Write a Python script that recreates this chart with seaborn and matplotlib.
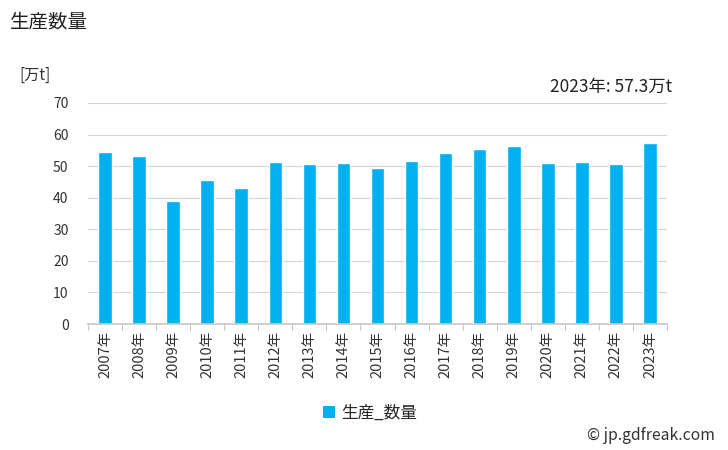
import matplotlib
matplotlib.use("Agg")
import matplotlib.pyplot as plt
import seaborn as sns
import pandas as pd

years = ["2007年", "2008年", "2009年", "2010年", "2011年", "2012年", "2013年", "2014年",
         "2015年", "2016年", "2017年", "2018年", "2019年", "2020年", "2021年", "2022年", "2023年"]
values = [54.5, 53.2, 39.0, 45.6, 43.1, 51.3, 50.7, 51.0,
          49.4, 51.6, 54.2, 55.4, 56.4, 51.0, 51.3, 50.6, 57.3]
series_name = "生産_数量"
title = "生産数量"
unit_label = "[万t]"
latest_note = "2023年: 57.3万t"
yticks = [0, 10, 20, 30, 40, 50, 60, 70]

sns.set_theme(style="white")
plt.rcParams['font.family'] = ['Noto Sans CJK JP', 'DejaVu Sans']

df = pd.DataFrame({"year": years, "value": values, "series": series_name})

fig = plt.figure(figsize=(7.28, 4.5), dpi=100)
ax = fig.add_axes([88/728, 1-324/450, (667-88)/728, (324-103)/450])

sns.barplot(data=df, x="year", y="value", hue="series", palette=["#00B0F0"],
            width=0.4, ax=ax, legend=False, saturation=1)

ax.set_ylim(0, 70)
ax.set_yticks(yticks)
ax.set_xlim(-0.5, len(years) - 0.5)
ax.yaxis.grid(True, color="#d4d4d4", linewidth=0.8)
ax.set_axisbelow(True)
for s in ["top", "right", "left"]:
    ax.spines[s].set_visible(False)
ax.spines["bottom"].set_color("#c8c8c8")
ax.set_xlabel("")
ax.set_ylabel("")
ax.tick_params(axis="y", length=0, labelsize=10, colors="#333333", pad=14)
ax.tick_params(axis="x", length=0, labelsize=10.5, colors="#333333", rotation=90, pad=5)

# category boundary tick marks
for i in range(len(years) + 1):
    ax.plot([i - 0.5, i - 0.5], [0, -0.028], transform=ax.get_xaxis_transform(),
            color="#c8c8c8", linewidth=0.8, clip_on=False)

fig.text(10/728, 1-22/450, title, fontsize=14, va="center", ha="left", color="#222222")
fig.text(19/728, 1-75/450, unit_label, fontsize=11, va="center", ha="left", color="#333333")
fig.text(672/728, 1-87/450, latest_note, fontsize=12.5, va="center", ha="right", color="#222222")

from matplotlib.patches import Patch
handles = [Patch(facecolor="#00B0F0", edgecolor="none", label=series_name)]
fig.legend(handles=handles, loc="center", bbox_to_anchor=(370/728, 1-413/450), frameon=False,
           fontsize=12, handlelength=0.7, handleheight=0.7, handletextpad=0.4)

fig.text(715/728, 1-435/450, "© jp.gdfreak.com", fontsize=11.3, va="center", ha="right", color="#333333")

fig.savefig("out.png", dpi=100, facecolor="white")
